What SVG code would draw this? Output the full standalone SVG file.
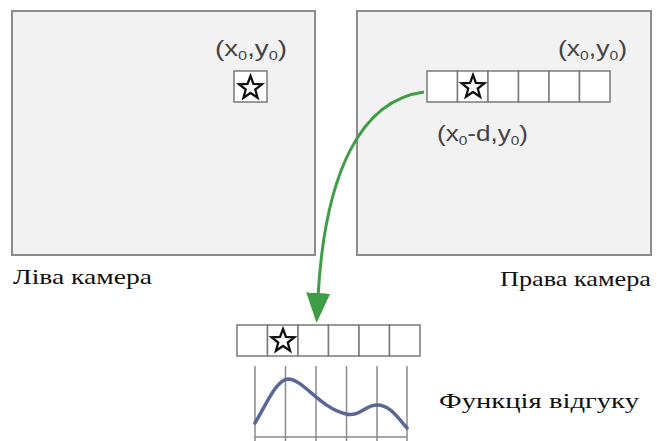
<svg xmlns="http://www.w3.org/2000/svg" width="657" height="441" viewBox="0 0 657 441">
<style>
.cam{fill:#f2f2f2;stroke:#8c8c8c;stroke-width:2}
.cell{fill:#ffffff;stroke:#7a7a7a;stroke-width:1.5}
.star{fill:#ffffff;stroke:#111111;stroke-width:2.3;stroke-linejoin:miter}
.coord{font-family:"Liberation Sans",Arial,sans-serif;font-size:22px;fill:#444444}
.sub{font-size:13px}
.lbl{font-family:"Liberation Serif","Times New Roman",serif;font-size:22px;fill:#111111}
.grid{stroke:#8a8a8a;stroke-width:1.5;fill:none}
.curve{stroke:#5a6796;stroke-width:3.5;fill:none;stroke-linecap:round}
.conn{stroke:#3f9e45;stroke-width:3;fill:none}
</style>
<defs>
<path id="starshape" d="M0,-12 L2.94,-4.05 L11.41,-3.71 L4.76,1.55 L7.05,9.71 L0,5 L-7.05,9.71 L-4.76,1.55 L-11.41,-3.71 L-2.94,-4.05 Z"/>
<marker id="arrow" markerWidth="30" markerHeight="24" refX="4" refY="12" orient="auto" markerUnits="userSpaceOnUse" viewBox="0 0 30 24">
<path d="M0,0 L30,12 L0,24 Z" fill="#3f9e45"/>
</marker>
</defs>

<g id="left-camera">
<rect class="cam" x="12" y="11" width="303" height="244"/>
<text class="coord" x="215" y="56" textLength="72" lengthAdjust="spacingAndGlyphs">(x<tspan class="sub" dy="4">0</tspan><tspan dy="-4">,y</tspan><tspan class="sub" dy="4">0</tspan><tspan dy="-4">)</tspan></text>
<rect class="cell" x="234" y="71" width="33" height="31" stroke="#666"/>
<use href="#starshape" class="star" x="250.5" y="88"/>
<text class="lbl" x="13" y="284" textLength="139" lengthAdjust="spacingAndGlyphs">Ліва камера</text>
</g>

<g id="right-camera">
<rect class="cam" x="357" y="11" width="294" height="244"/>
<text class="coord" x="558" y="56" textLength="69" lengthAdjust="spacingAndGlyphs">(x<tspan class="sub" dy="4">0</tspan><tspan dy="-4">,y</tspan><tspan class="sub" dy="4">0</tspan><tspan dy="-4">)</tspan></text>
<g id="right-strip">
<rect class="cell" x="427" y="71" width="30.5" height="31"/>
<rect class="cell" x="457.5" y="71" width="30.5" height="31"/>
<rect class="cell" x="488" y="71" width="30.5" height="31"/>
<rect class="cell" x="518.5" y="71" width="30.5" height="31"/>
<rect class="cell" x="549" y="71" width="30.5" height="31"/>
<rect class="cell" x="579.5" y="71" width="30.5" height="31"/>
<use href="#starshape" class="star" x="473" y="87"/>
</g>
<text class="coord" x="437" y="141" textLength="91" lengthAdjust="spacingAndGlyphs">(x<tspan class="sub" dy="4">0</tspan><tspan dy="-4">-d,y</tspan><tspan class="sub" dy="4">0</tspan><tspan dy="-4">)</tspan></text>
<text class="lbl" x="500" y="286" textLength="151" lengthAdjust="spacingAndGlyphs">Права камера</text>
</g>

<g id="response">
<g id="bottom-strip">
<rect class="cell" x="237" y="325" width="30.5" height="31"/>
<rect class="cell" x="267.5" y="325" width="30.5" height="31"/>
<rect class="cell" x="298" y="325" width="30.5" height="31"/>
<rect class="cell" x="328.5" y="325" width="30.5" height="31"/>
<rect class="cell" x="359" y="325" width="30.5" height="31"/>
<rect class="cell" x="389.5" y="325" width="30.5" height="31"/>
<use href="#starshape" class="star" x="283" y="341"/>
</g>
<g id="plot">
<path class="grid" d="M255,366 V441 M285.5,366 V441 M316,366 V441 M346.5,366 V441 M377,366 V441 M407,366 V441 M255,437 H407"/>
<path class="curve" d="M255,423 C266,405 276,380 288,379 C303,379 320,408 346,414 C360,417 365,405 377,405 C390,405 398,418 407,428"/>
</g>
<text class="lbl" x="439" y="408" textLength="200" lengthAdjust="spacingAndGlyphs">Функція відгуку</text>
</g>

<g id="connectors">
<path class="conn" d="M424,92 C362,100 325,170 318,297" marker-end="url(#arrow)"/>
</g>
</svg>
